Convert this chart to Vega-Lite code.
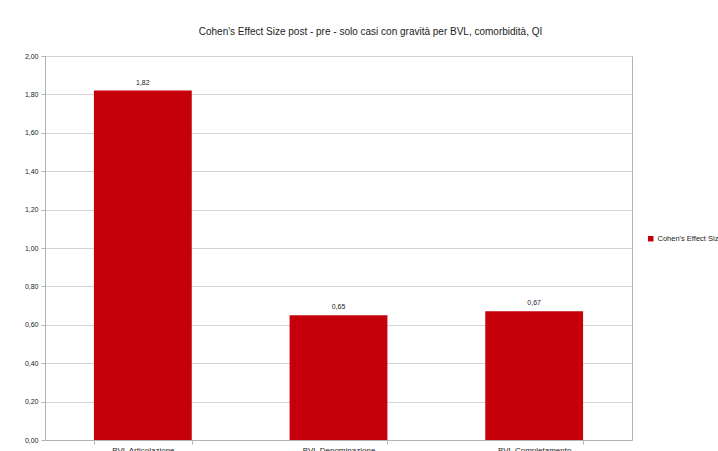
{
  "$schema": "https://vega.github.io/schema/vega-lite/v6.json",
  "autosize": {"type": "none"},
  "width": 587,
  "height": 384,
  "padding": {"left": 45, "top": 56, "right": 86, "bottom": 11},
  "background": "white",
  "config": {
    "locale": {"number": {"decimal": ",", "thousands": ".", "grouping": [3], "currency": ["€", ""]}},
    "view": {"stroke": "#b3b3b3", "strokeWidth": 1},
    "font": "Liberation Sans"
  },
  "title": {
    "text": "Cohen's Effect Size post - pre - solo casi con gravità per BVL, comorbidità, QI",
    "fontSize": 10,
    "fontWeight": "normal",
    "font": "Liberation Sans",
    "color": "#222222",
    "anchor": "middle",
    "dx": 32,
    "offset": 15
  },
  "data": {
    "values": [
      {"categoria": "BVL Articolazione", "serie": "Cohen's Effect Size", "valore": 1.82},
      {"categoria": "BVL Denominazione", "serie": "Cohen's Effect Size", "valore": 0.65},
      {"categoria": "BVL Completamento", "serie": "Cohen's Effect Size", "valore": 0.67}
    ]
  },
  "encoding": {
    "x": {
      "field": "categoria",
      "type": "nominal",
      "sort": null,
      "scale": {"paddingInner": 0.5, "paddingOuter": 0.25},
      "axis": {
        "title": null,
        "labelAngle": 0,
        "labelFontSize": 8,
        "labelColor": "#222222",
        "labelPadding": 2,
        "domainColor": "#b3b3b3",
        "tickColor": "#b3b3b3",
        "tickBand": "extent",
        "tickSize": 4
      }
    },
    "y": {
      "field": "valore",
      "type": "quantitative",
      "scale": {"domain": [0, 2], "nice": false},
      "axis": {
        "title": null,
        "values": [0, 0.2, 0.4, 0.6, 0.8, 1, 1.2, 1.4, 1.6, 1.8, 2],
        "format": ".2f",
        "labelFontSize": 7,
        "labelColor": "#222222",
        "labelPadding": 3,
        "gridColor": "#d4d4d4",
        "domainColor": "#b3b3b3",
        "tickColor": "#b3b3b3",
        "tickSize": 4
      }
    }
  },
  "layer": [
    {
      "mark": {"type": "bar", "stroke": null},
      "encoding": {
        "color": {
          "field": "serie",
          "type": "nominal",
          "scale": {"range": ["#c5000b"]},
          "legend": {
            "title": null,
            "orient": "none",
            "legendX": 602,
            "legendY": 179,
            "symbolType": "square",
            "symbolSize": 30,
            "labelFontSize": 7.5,
            "labelColor": "#222222",
            "labelOffset": 3,
            "labelLimit": 300
          }
        }
      }
    },
    {
      "mark": {"type": "text", "dy": -5, "fontSize": 7, "color": "#222222", "baseline": "bottom"},
      "encoding": {
        "text": {"field": "valore", "type": "quantitative", "format": ".2f"}
      }
    }
  ]
}
